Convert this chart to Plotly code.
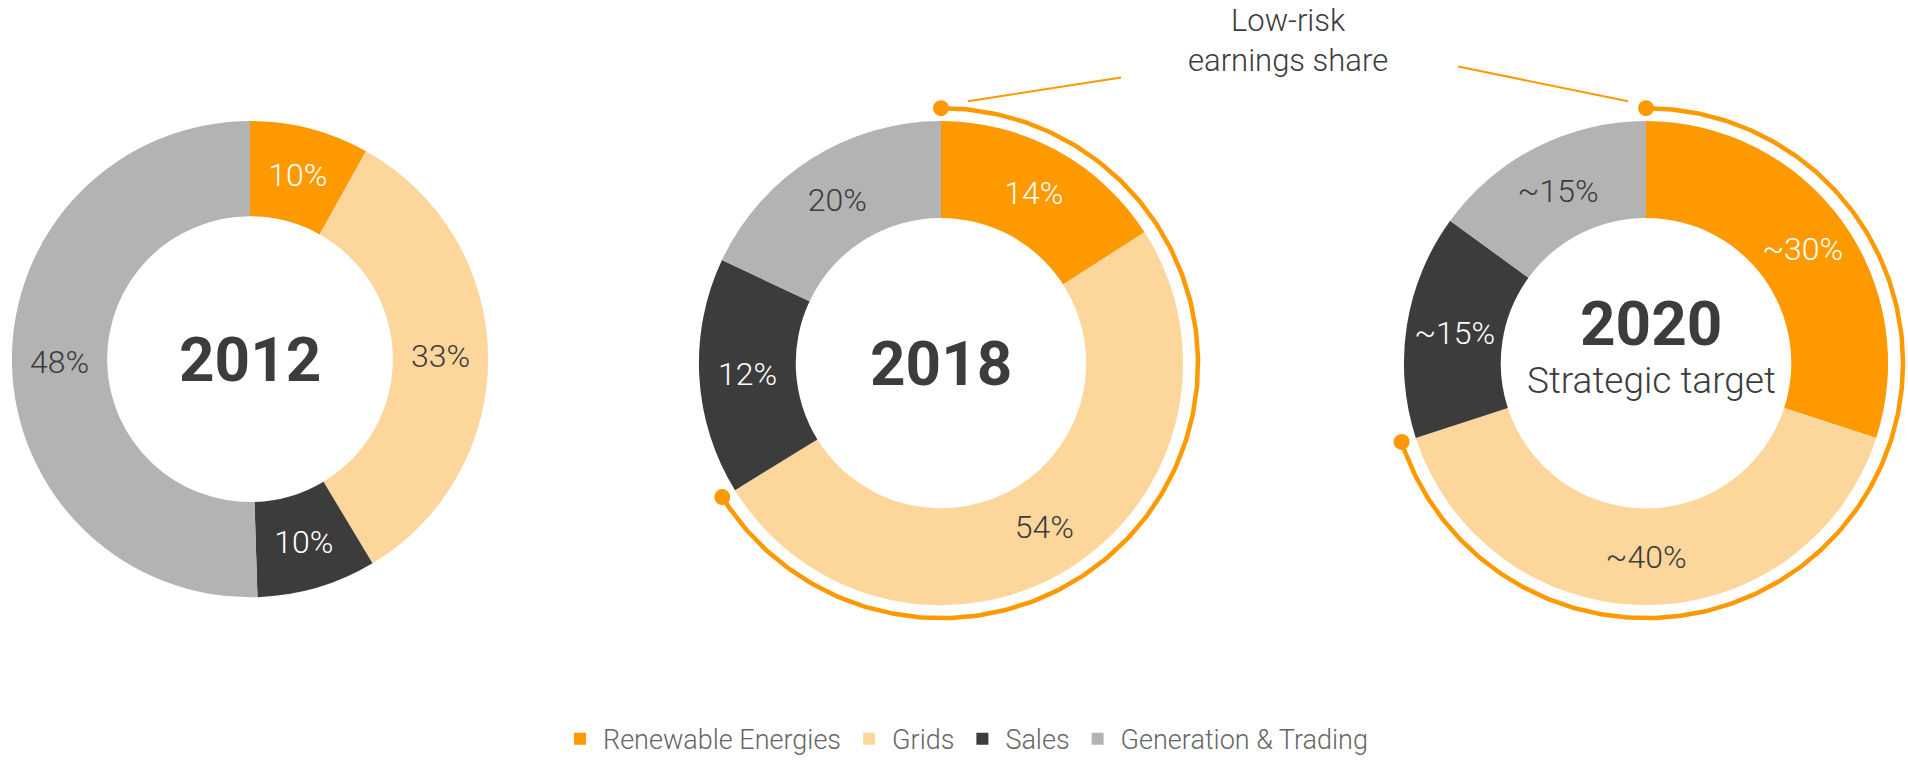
import numpy as np
import plotly.graph_objects as go

# segments and colours
segments = ['Renewable Energies', 'Grids', 'Sales', 'Generation & Trading']
colors = ['#FF9900', '#FDD69B', '#3C3C3C', '#B3B3B3']
text_colors = ['white', '#3C3C3C', 'white', '#3C3C3C']

# slice shares as drawn, and the printed labels
years = ['2012', '2018', '2020']
shares_2012 = [8.1, 33.3, 8.1, 50.5]
shares_2018 = [15.9, 50.3, 15.8, 18.0]
shares_2020 = [30, 40, 15, 15]
labels_2012 = ['10%', '33%', '10%', '48%']
labels_2018 = ['14%', '54%', '12%', '20%']
labels_2020 = ['~30%', '~40%', '~15%', '~15%']
low_risk = ['Renewable Energies', 'Grids']

W, H = 1908, 764
FONT = 'Roboto'
DARK = '#3C3C3C'
ORANGE = '#FF9900'

# donut placement in pixels: centre x, centre y (from top), radius, show low-risk arc
placement = [(250, 362, 240, False), (941, 366, 244, True), (1646, 366, 244, True)]
all_shares = [shares_2012, shares_2018, shares_2020]
all_labels = [labels_2012, labels_2018, labels_2020]

fig = go.Figure()

for i, (year, shares, labels) in enumerate(zip(years, all_shares, all_labels)):
    cx, cy, r, arc = placement[i]
    fig.add_trace(go.Pie(
        labels=segments, values=shares, text=labels,
        textinfo='text', textposition='inside',
        insidetextorientation='horizontal',
        insidetextfont=dict(family=FONT, size=32, color=text_colors, weight=300),
        marker=dict(colors=colors, line=dict(width=0)),
        hole=0.6, sort=False, direction='clockwise', rotation=0,
        domain=dict(x=[(cx - r) / W, (cx + r) / W],
                    y=[(H - cy - r) / H, (H - cy + r) / H]),
        showlegend=(i == 0), hoverinfo='skip'
    ))

    if arc:
        frac = sum(s for s, seg in zip(shares, segments) if seg in low_risk) / sum(shares)
        theta = np.linspace(0, 2 * np.pi * frac, 300)
        ra = r + 13
        ax = cx + ra * np.sin(theta)
        ay = cy - ra * np.cos(theta)
        fig.add_trace(go.Scatter(
            x=ax, y=ay, mode='lines', line=dict(color=ORANGE, width=4.5),
            showlegend=False, hoverinfo='skip'
        ))
        fig.add_trace(go.Scatter(
            x=[ax[0], ax[-1]], y=[ay[0], ay[-1]], mode='markers',
            marker=dict(color=ORANGE, size=16), showlegend=False, hoverinfo='skip'
        ))

# centre labels and callout text
annotations = [
    dict(x=placement[0][0], y=placement[0][1], text='<b>2012</b>',
         font=dict(family=FONT, size=62, color=DARK)),
    dict(x=placement[1][0], y=placement[1][1], text='<b>2018</b>',
         font=dict(family=FONT, size=62, color=DARK)),
    dict(x=placement[2][0] + 5, y=placement[2][1] - 40, text='<b>2020</b>',
         font=dict(family=FONT, size=62, color=DARK)),
    dict(x=placement[2][0] + 5, y=placement[2][1] + 18, text='Strategic target',
         font=dict(family=FONT, size=37, color=DARK, weight=300)),
    dict(x=1288, y=0, yanchor='top', text='Low-risk<br>earnings share',
         font=dict(family=FONT, size=31, color=DARK, weight=300)),
]
for a in annotations:
    a.setdefault('yanchor', 'middle')
    a.update(xref='x', yref='y', showarrow=False, xanchor='center')

shapes = [
    dict(type='line', x0=968, y0=102, x1=1121, y1=78),
    dict(type='line', x0=1458, y0=67, x1=1628, y1=102),
]
for s in shapes:
    s.update(xref='x', yref='y', line=dict(color=ORANGE, width=2))

fig.update_layout(
    width=W, height=H, margin=dict(l=0, r=0, t=0, b=0),
    paper_bgcolor='white', plot_bgcolor='white',
    xaxis=dict(range=[0, W], visible=False, fixedrange=True),
    yaxis=dict(range=[H, 0], visible=False, fixedrange=True),
    uniformtext=dict(mode='show', minsize=32),
    annotations=annotations, shapes=shapes,
    legend=dict(orientation='h', x=965 / W, y=(H - 745) / H,
                xanchor='center', yanchor='middle', itemwidth=36,
                font=dict(family=FONT, size=27, color='#666666', weight=300)),
)

# drop the default page margin so the figure sits at the window's top-left corner
fig.write_html('out.html', config={'displayModeBar': False},
               post_script="document.body.style.margin = '0px';")
